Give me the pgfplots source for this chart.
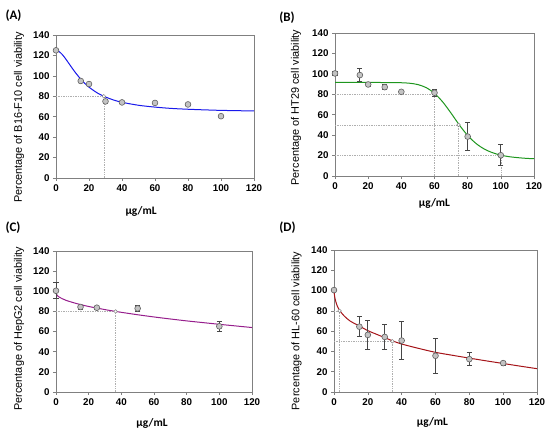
\documentclass[border=0pt]{standalone}
\usepackage{fontspec}
\setmainfont{Liberation Sans}
\newfontfamily\calibri{Carlito}
\usepackage{pgfplots}
\pgfplotsset{compat=1.18}
\definecolor{frame}{RGB}{128,128,128}
\definecolor{ptfill}{RGB}{195,195,195}
\definecolor{ptedge}{RGB}{95,95,95}
\definecolor{errc}{RGB}{70,70,70}
\definecolor{gridc}{RGB}{175,175,175}
\definecolor{cA}{RGB}{25,25,235}
\definecolor{cB}{RGB}{30,150,30}
\definecolor{cC}{RGB}{150,30,140}
\definecolor{cD}{RGB}{165,20,25}
\pgfplotsset{
  panel/.style={
    scale only axis, clip=false,
    xmin=0,xmax=120,ymin=0,ymax=140,
    xtick={0,20,...,120}, ytick={0,20,...,140},
    axis line style={draw=frame, line width=0.9pt},
    tick style={draw=frame, line width=0.6pt},
    tick align=outside, major tick length=3pt, tick pos=left,
    tick label style={font=\fontsize{9.8}{10}\selectfont\bfseries},
    /pgf/number format/assume math mode=true,
    ylabel style={font=\fontsize{10.9}{12}\selectfont},
    xlabel style={font=\calibri\bfseries\fontsize{11.4}{12}\selectfont},
    xlabel={\textmu g/mL},
  },
  refl/.style={gridc, dash pattern=on 0.7pt off 1pt, line width=0.55pt, forget plot},
  pts/.style={only marks, mark=*, mark size=2.9pt,
    mark options={fill=ptfill, draw=ptedge, line width=0.6pt}},
  ebar/.style={only marks, mark=*, mark size=2.9pt,
    mark options={fill=ptfill, draw=ptedge, line width=0.6pt},
    error bars/.cd, y dir=both, y explicit,
    error bar style={errc, line width=0.9pt},
    error mark options={errc, line width=0.9pt, mark size=2.6pt, rotate=90}},
  wpt/.style={only marks, mark=*, mark size=1.8pt,
    mark options={fill=white, draw=frame, line width=0.5pt}},
  fit/.style={smooth, no marks, line width=1pt},
}
\begin{document}
\begin{tikzpicture}
\path[use as bounding box] (0,0) rectangle (550pt,436pt);
% (A)
\begin{axis}[panel, at={(56pt,258pt)}, anchor=south west, width=198pt, height=143pt,
  ylabel={Percentage of B16-F10 cell viability},
  ylabel style={at={(axis description cs:-0.187,0.423)}, anchor=center},
  xlabel style={at={(axis description cs:0.43,0)}, anchor=center, yshift=-33pt}]
\addplot[refl] coordinates {(0,80) (29,80)};
\addplot[refl] coordinates {(29,0) (29,80)};
\addplot[fit, cA] coordinates {(0,125) (2,123.6) (4,120.5) (6,116.3) (8,111.7) (10,107.1) (12,102.7) (14,98.7) (16,95.0) (18,91.8) (20,88.9) (25,83.3) (30,79.3) (35,76.3) (40,74.1) (50,71.2) (60,69.4) (70,68.1) (80,67.3) (90,66.7) (100,66.2) (110,65.9) (120,65.6)};
\addplot[wpt] coordinates {(29,80)};
\addplot[pts] coordinates {(0,125) (15,95) (20,92) (30,75) (40,74) (60,73.5) (80,72) (100,60.5)};
\end{axis}
\node at (13.5pt,420pt) {\calibri\bfseries\fontsize{13}{14}\selectfont (A)};
% (B)
\begin{axis}[panel, at={(335pt,260pt)}, anchor=south west, width=199pt, height=143pt,
  ylabel={Percentage of HT29 cell viability},
  ylabel style={at={(axis description cs:-0.196,0.479)}, anchor=center},
  xlabel style={at={(axis description cs:0.5,0)}, anchor=center, yshift=-27pt}]
\addplot[refl] coordinates {(0,80) (60,80)};
\addplot[refl] coordinates {(60,0) (60,80)};
\addplot[refl] coordinates {(0,50) (74.5,50)};
\addplot[refl] coordinates {(74.5,0) (74.5,50)};
\addplot[refl] coordinates {(0,20) (100,20)};
\addplot[refl] coordinates {(100,0) (100,20)};
\addplot[fit, cB] coordinates {(0,91.6) (10,91.6) (20,91.6) (30,91.5) (40,91.3) (45,90.8) (50,89.5) (55,86.5) (60,80.9) (65,72.4) (70,61.5) (75,49.9) (80,39.7) (85,31.9) (90,26.4) (95,22.8) (100,20.4) (105,18.9) (110,18.0) (115,17.3) (120,16.9)};
\addplot[wpt] coordinates {(60,80.5) (74.5,50) (100,20)};
\addplot[ebar] coordinates {(0,100.4) +- (0,2) (15,98.8) +- (0,6) (20,89.6) +- (0,2) (30,87) +- (0,2.5) (40,82.4) +- (0,1) (60,81.5) +- (0,3.3) (80,38.6) +- (0,14) (100,20.3) +- (0,10.3)};
\end{axis}
\node at (287pt,418.5pt) {\calibri\bfseries\fontsize{13}{14}\selectfont (B)};
% (C)
\begin{axis}[panel, at={(56pt,44pt)}, anchor=south west, width=196pt, height=141pt,
  ylabel={Percentage of HepG2 cell viability},
  ylabel style={at={(axis description cs:-0.189,0.448)}, anchor=center},
  xlabel style={at={(axis description cs:0.49,0)}, anchor=center, yshift=-31pt}]
\addplot[refl] coordinates {(0,80) (36.5,80)};
\addplot[refl] coordinates {(36.5,0) (36.5,80)};
\addplot[fit, cC] coordinates {(0,98) (1,95.4) (2,94.2) (4,92.5) (6,91.1) (10,89.0) (15,86.8) (20,84.9) (30,81.8) (36.5,80) (40,79.1) (50,76.7) (60,74.5) (70,72.5) (80,70.6) (90,68.9) (100,67.2) (110,65.6) (120,64.0)};
\addplot[wpt] coordinates {(36.5,80)};
\addplot[ebar] coordinates {(0,100.5) +- (0,8) (15,84.4) +- (0,2) (25,83.7) +- (0,1.5) (50,83) +- (0,3) (100,65.2) +- (0,4.6)};
\end{axis}
\node at (13pt,208pt) {\calibri\bfseries\fontsize{13}{14}\selectfont (C)};
% (D)
\begin{axis}[panel, at={(334pt,44pt)}, anchor=south west, width=203pt, height=142pt,
  ylabel={Percentage of HL-60 cell viability},
  ylabel style={at={(axis description cs:-0.185,0.43)}, anchor=center},
  xlabel style={at={(axis description cs:0.485,0)}, anchor=center, yshift=-30.5pt}]
\addplot[refl] coordinates {(0,80) (3.3,80)};
\addplot[refl] coordinates {(3.3,0) (3.3,80)};
\addplot[refl] coordinates {(0,50) (34.5,50)};
\addplot[refl] coordinates {(34.5,0) (34.5,50)};
\addplot[fit, cD] coordinates {(0,99) (0.5,93) (1,89.5) (2,84.5) (3.5,80) (6,75) (9.5,70) (15,65) (20,60.5) (25,57) (30,53.6) (34.5,50.5) (40,47.3) (50,43) (60,39.1) (70,36.2) (80,33.4) (90,30.7) (100,28.1) (110,25.5) (120,23)};
\addplot[wpt] coordinates {(3.3,80) (34.5,50)};
\addplot[ebar] coordinates {(0,100.5) +- (0,0) (15,64.4) +- (0,9.7) (20,56.3) +- (0,14) (30,54.3) +- (0,12.3) (40,50.7) +- (0,19) (60,35.7) +- (0,17.4) (80,32.4) +- (0,6.5) (100,28.5) +- (0,2)};
\end{axis}
\node at (287.5pt,208pt) {\calibri\bfseries\fontsize{13}{14}\selectfont (D)};
\end{tikzpicture}
\end{document}
